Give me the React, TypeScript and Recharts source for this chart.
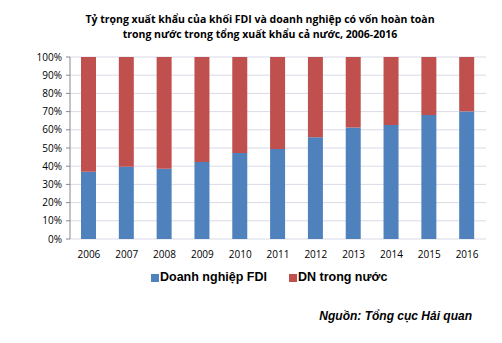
import { Bar, BarChart, CartesianGrid, Legend, XAxis, YAxis } from "recharts";

const years = ["2006", "2007", "2008", "2009", "2010", "2011", "2012", "2013", "2014", "2015", "2016"];
const fdiShare = [37.0, 39.7, 38.6, 42.3, 47.3, 49.5, 55.9, 61.2, 62.6, 68.1, 70.1];
const domesticShare = fdiShare.map((v) => 100 - v);
const yTicks = [0, 10, 20, 30, 40, 50, 60, 70, 80, 90, 100];

const BLUE = "#4f81bd";
const RED = "#c0504d";
const TICK_FONT = "'Open Sans', sans-serif";

const rows = years.map((year, i) => ({ year, fdi: fdiShare[i], dn: domesticShare[i] }));
const edgeTicks = years.map((_, i) => i).concat(years.length);

function LegendRow() {
  const item = (color: string, label: string, gap: number) => (
    <span style={{ display: "inline-flex", alignItems: "center", marginRight: gap }}>
      <span style={{ width: 8, height: 8, background: color, display: "inline-block", marginRight: 1 }} />
      <span>{label}</span>
    </span>
  );
  return (
    <div
      style={{
        fontFamily: "'Liberation Sans', Arial, sans-serif",
        fontWeight: "bold",
        fontSize: 12.5,
        lineHeight: "15px",
        height: 15,
        color: "#000",
        paddingLeft: 151,
        textAlign: "left",
      }}
    >
      {item(BLUE, "Doanh nghiệp FDI", 22)}
      {item(RED, "DN trong nước", 0)}
    </div>
  );
}

export default function App() {
  return (
    <div style={{ position: "absolute", left: 0, top: 0, width: 502, height: 343, background: "#fff" }}>
      <div
        style={{
          position: "absolute",
          left: 0,
          top: 12,
          width: 520,
          textAlign: "center",
          fontFamily: TICK_FONT,
          fontWeight: "bold",
          fontSize: 10.5,
          lineHeight: "15px",
          color: "#000",
        }}
      >
        Tỷ trọng xuất khẩu của khối FDI và doanh nghiệp có vốn hoàn toàn
        <br />
        trong nước trong tổng xuất khẩu cả nước, 2006-2016
      </div>
      <BarChart
        width={502}
        height={343}
        data={rows}
        margin={{ top: 57, right: 16, bottom: 59, left: 0 }}
        barCategoryGap="30%"
      >
        <CartesianGrid horizontal vertical={false} stroke="#d9dbe8" />
        <XAxis
          xAxisId="edges"
          type="number"
          domain={[0, years.length]}
          ticks={edgeTicks}
          tick={false}
          tickSize={4}
          height={0}
          axisLine={{ stroke: "#888" }}
          tickLine={{ stroke: "#888" }}
        />
        <XAxis
          dataKey="year"
          axisLine={false}
          tickLine={false}
          height={30}
          tickMargin={6}
          tick={{ fontSize: 10, fill: "#000", fontFamily: TICK_FONT }}
          interval={0}
        />
        <YAxis
          width={70}
          domain={[0, 100]}
          ticks={yTicks}
          interval={0}
          tickFormatter={(v) => `${v}%`}
          tick={{ fontSize: 10, fill: "#000", fontFamily: TICK_FONT }}
          axisLine={{ stroke: "#888" }}
          tickLine={{ stroke: "#888" }}
          tickSize={4}
          tickMargin={4}
        />
        <Legend
          content={() => <LegendRow />}
          wrapperStyle={{ position: "absolute", top: 270, left: 0, width: 502 }}
        />
        <Bar dataKey="fdi" name="Doanh nghiệp FDI" stackId="a" fill={BLUE} barSize={15} isAnimationActive={false} />
        <Bar dataKey="dn" name="DN trong nước" stackId="a" fill={RED} barSize={15} isAnimationActive={false} />
      </BarChart>
      <div
        style={{
          position: "absolute",
          right: 30,
          top: 309,
          fontFamily: "'Liberation Sans', Arial, sans-serif",
          fontWeight: "bold",
          fontStyle: "italic",
          fontSize: 12,
          color: "#000",
        }}
      >
        Nguồn: Tổng cục Hải quan
      </div>
    </div>
  );
}
